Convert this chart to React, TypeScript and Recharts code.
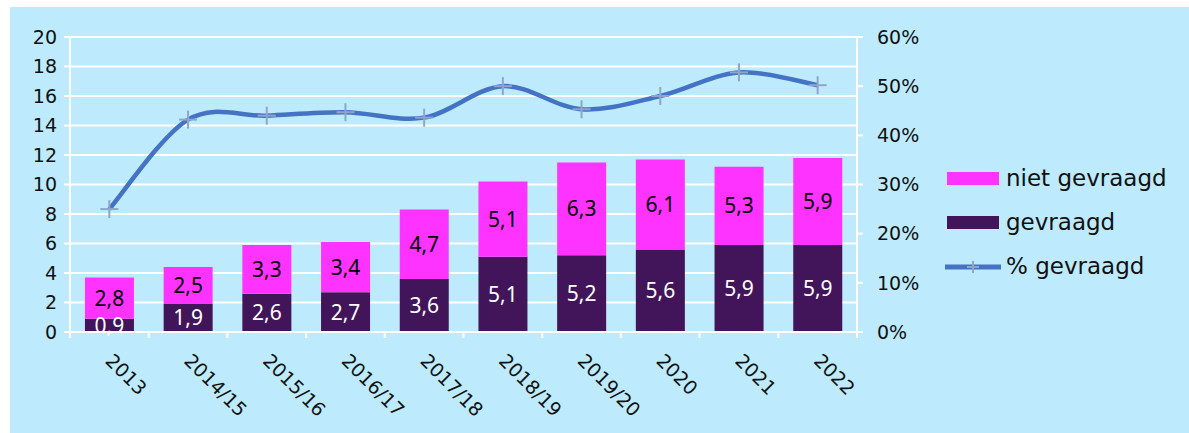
import { ComposedChart, Bar, Line, XAxis, YAxis, CartesianGrid, LabelList } from 'recharts'

const categories = ['2013', '2014/15', '2015/16', '2016/17', '2017/18', '2018/19', '2019/20', '2020', '2021', '2022']
const gevraagd = [0.9, 1.9, 2.6, 2.7, 3.6, 5.1, 5.2, 5.6, 5.9, 5.9]
const nietGevraagd = [2.8, 2.5, 3.3, 3.4, 4.7, 5.1, 6.3, 6.1, 5.3, 5.9]
const pctGevraagd = [25, 43.2, 44, 44.7, 43.6, 50, 45.3, 48, 52.8, 50.2]
const leftTicks = [0, 2, 4, 6, 8, 10, 12, 14, 16, 18, 20]
const rightTicks = [0, 10, 20, 30, 40, 50, 60]

const BG = '#BDEBFD'
const PURPLE = '#42155A'
const MAGENTA = '#FF33FF'
const LINE = '#4472C4'
const MARKER = '#8FA6CA'
const AXIS_FONT = '"DejaVu Sans", sans-serif'
const LABEL_FONT = '"Noto Sans", sans-serif'

const W = 1179
const H = 426
const MARGIN = { top: 30, right: 272, bottom: 0, left: 0 }
const STEP = (W - MARGIN.right - 60 - 60) / categories.length

const data = categories.map((cat, i) => ({
  cat,
  gevraagd: gevraagd[i],
  niet: nietGevraagd[i],
  pct: pctGevraagd[i],
}))

const fmt = (v: unknown) => Number(v).toFixed(1).replace('.', ',')

// smoothed line the way the spreadsheet draws it (catmull-rom, tension 1/6)
const excelSmooth = (ctx: any) => {
  let pts: [number, number][] = []
  return {
    areaStart() {},
    areaEnd() {},
    lineStart() {
      pts = []
    },
    point(x: number, y: number) {
      pts.push([+x, +y])
    },
    lineEnd() {
      if (!pts.length) return
      ctx.moveTo(pts[0][0], pts[0][1])
      for (let i = 0; i < pts.length - 1; i++) {
        const p0 = pts[i - 1] || pts[i]
        const p1 = pts[i]
        const p2 = pts[i + 1]
        const p3 = pts[i + 2] || p2
        ctx.bezierCurveTo(
          p1[0] + (p2[0] - p0[0]) / 6,
          p1[1] + (p2[1] - p0[1]) / 6,
          p2[0] - (p3[0] - p1[0]) / 6,
          p2[1] - (p3[1] - p1[1]) / 6,
          p2[0],
          p2[1],
        )
      }
    },
  }
}

function PlusDot(props: any) {
  const { cx, cy, index } = props
  if (cx == null || cy == null) return <g key={index} />
  return (
    <g key={index} stroke={MARKER} strokeWidth={2}>
      <line x1={cx - 9} x2={cx + 9} y1={cy} y2={cy} />
      <line x1={cx} x2={cx} y1={cy - 9} y2={cy + 9} />
    </g>
  )
}

function XTick(props: any) {
  const { x, y, payload, index } = props
  const tx = x - 5
  const ty = y + 22
  return (
    <g>
      <line x1={x - STEP / 2} x2={x - STEP / 2} y1={y - 8} y2={y - 2} stroke="#fff" strokeWidth={2} />
      {index === categories.length - 1 && (
        <line x1={x + STEP / 2} x2={x + STEP / 2} y1={y - 8} y2={y - 2} stroke="#fff" strokeWidth={2} />
      )}
      <text x={tx} y={ty} transform={`rotate(45, ${tx}, ${ty})`} textAnchor="start" fontSize={19} fontFamily={AXIS_FONT} fill="#111">
        {payload.value}
      </text>
    </g>
  )
}

const legendItems = [
  { name: 'niet gevraagd', kind: 'bar', color: MAGENTA },
  { name: 'gevraagd', kind: 'bar', color: PURPLE },
  { name: '% gevraagd', kind: 'line', color: LINE },
]

function ChartLegend() {
  return (
    <div style={{ position: 'absolute', left: 935, top: 149, fontFamily: AXIS_FONT, fontSize: 23, color: '#111' }}>
      {legendItems.map((it) => (
        <div key={it.name} style={{ display: 'flex', alignItems: 'center', height: 44 }}>
          <svg width={58} height={20} style={{ marginRight: 3 }}>
            {it.kind === 'bar' ? (
              <rect x={2} y={4} width={52} height={13} fill={it.color} />
            ) : (
              <g>
                <line x1={0} x2={56} y1={11} y2={11} stroke={it.color} strokeWidth={5} />
                <line x1={22} x2={34} y1={11} y2={11} stroke={MARKER} strokeWidth={2} />
                <line x1={28} x2={28} y1={5} y2={17} stroke={MARKER} strokeWidth={2} />
              </g>
            )}
          </svg>
          <span>{it.name}</span>
        </div>
      ))}
    </div>
  )
}

export default function App() {
  return (
    <div style={{ position: 'absolute', left: 10, top: 7, width: W, height: H, background: BG }}>
      <ComposedChart width={W} height={H} data={data} margin={MARGIN} barCategoryGap="19%">
        <CartesianGrid yAxisId="left" vertical={false} stroke="#fff" strokeWidth={2} />
        <XAxis
          dataKey="cat"
          interval={0}
          height={101}
          tickSize={6}
          tickMargin={2}
          tickLine={false}
          axisLine={{ stroke: '#fff', strokeWidth: 2 }}
          tick={<XTick />}
        />
        <YAxis
          yAxisId="left"
          domain={[0, 20]}
          ticks={leftTicks}
          width={60}
          tickSize={6}
          tickMargin={7}
          axisLine={{ stroke: '#fff', strokeWidth: 2 }}
          tickLine={{ stroke: '#fff', strokeWidth: 2 }}
          tick={{ fontSize: 19, fill: '#111', fontFamily: AXIS_FONT }}
        />
        <YAxis
          yAxisId="right"
          orientation="right"
          domain={[0, 60]}
          ticks={rightTicks}
          width={60}
          tickSize={6}
          tickMargin={14}
          tickFormatter={(v) => `${v}%`}
          axisLine={{ stroke: '#fff', strokeWidth: 2 }}
          tickLine={{ stroke: '#fff', strokeWidth: 2 }}
          tick={{ fontSize: 19, fill: '#111', fontFamily: AXIS_FONT }}
        />
        <Bar yAxisId="left" dataKey="gevraagd" stackId="a" fill={PURPLE} isAnimationActive={false}>
          <LabelList dataKey="gevraagd" position="center" formatter={fmt} fill="#fff" fontSize={21} fontFamily={LABEL_FONT} />
        </Bar>
        <Bar yAxisId="left" dataKey="niet" stackId="a" fill={MAGENTA} isAnimationActive={false}>
          <LabelList dataKey="niet" position="center" formatter={fmt} fill="#000" fontSize={21} fontFamily={LABEL_FONT} />
        </Bar>
        <Line
          yAxisId="right"
          dataKey="pct"
          type={excelSmooth as any}
          stroke={LINE}
          strokeWidth={4.5}
          dot={<PlusDot />}
          activeDot={false}
          isAnimationActive={false}
        />
      </ComposedChart>
      <ChartLegend />
    </div>
  )
}
